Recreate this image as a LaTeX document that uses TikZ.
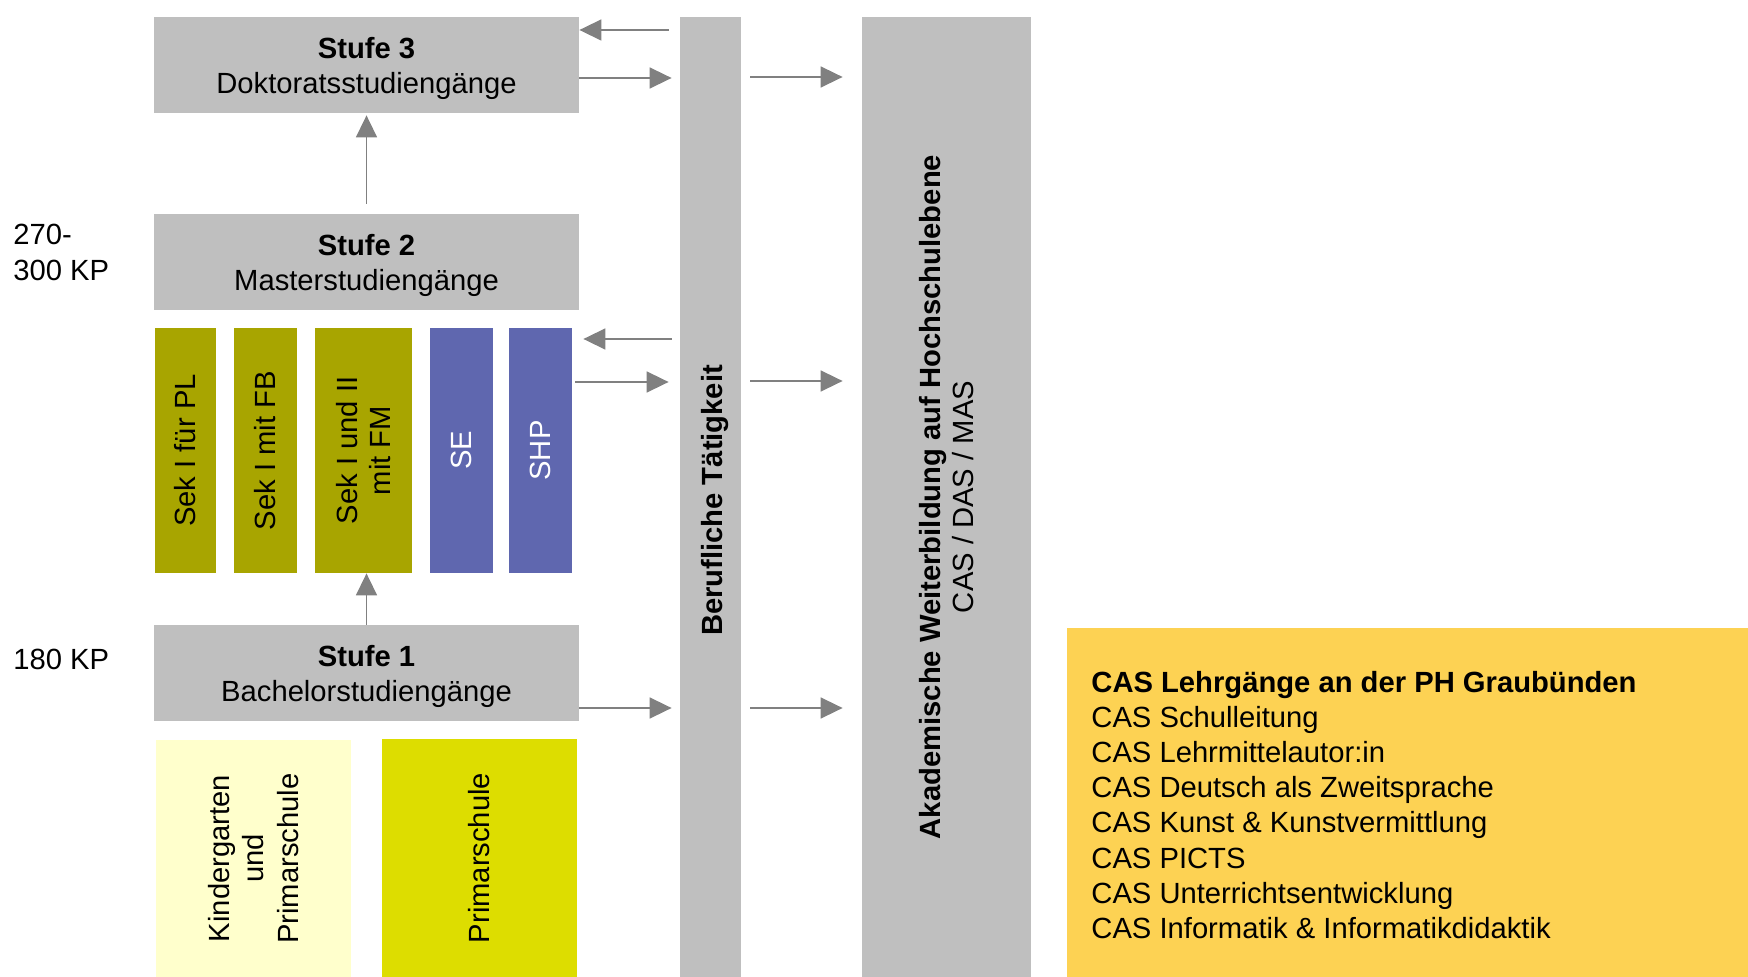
\documentclass[tikz,border=0pt]{standalone}
\usepackage{fontspec}
\setmainfont{Liberation Sans}
\usetikzlibrary{arrows.meta}
\definecolor{boxgray}{HTML}{BFBFBF}
\definecolor{olive}{HTML}{A8A500}
\definecolor{violetblue}{HTML}{5F67AF}
\definecolor{paleyellow}{HTML}{FFFFCC}
\definecolor{lemon}{HTML}{DDDD00}
\definecolor{casyellow}{HTML}{FDD253}
\definecolor{arrowgray}{HTML}{808080}
\tikzset{
  blk/.style 2 args={rectangle, inner sep=0pt, minimum width=#1*0.5pt, minimum height=#2*0.5pt, align=center},
  txt/.style={font=\fontsize{14.6}{16.8}\selectfont},
  stufetxt/.style={align=center, font=\fontsize{14.6}{17.8}\selectfont, yshift=-1.7pt},
  arr/.style={draw=arrowgray, line width=0.8pt, -{Triangle[length=11pt,width=10.5pt]}, arrowgray},
}
\begin{document}
\begin{tikzpicture}[x=0.5pt, y=-0.5pt]
\useasboundingbox (0,0) rectangle (1748,977);

% Stufe boxes
\node[blk={425}{96}, fill=boxgray] (s3) at (366.5,65) {};
\node[stufetxt] (s3t) at (s3.center) {\textbf{Stufe 3}\\Doktoratsstudiengänge};
\node[blk={425}{96}, fill=boxgray] (s2) at (366.5,262) {};
\node[stufetxt] (s2t) at (s2.center) {\textbf{Stufe 2}\\Masterstudiengänge};
\node[blk={425}{96}, fill=boxgray] (s1) at (366.5,673) {};
\node[stufetxt] (s1t) at (s1.center) {\textbf{Stufe 1}\\Bachelorstudiengänge};

% master programmes
\node[blk={61}{245}, fill=olive] (pl) at (185.5,450.5) {};
\node[txt, rotate=90] (plt) at (pl.center) {Sek I für PL};
\node[blk={63}{245}, fill=olive] (fb) at (265.5,450.5) {};
\node[txt, rotate=90] (fbt) at (fb.center) {Sek I mit FB};
\node[blk={97}{245}, fill=olive] (fm) at (363.5,450.5) {};
\node[txt, rotate=90, align=center] (fmt) at (fm.center) {Sek I und II\\mit FM};
\node[blk={63}{245}, fill=violetblue] (se) at (461.5,450.5) {};
\node[txt, rotate=90, text=white] (set) at (se.center) {SE};
\node[blk={63}{245}, fill=violetblue] (shp) at (540.5,450.5) {};
\node[txt, rotate=90, text=white] (shpt) at (shp.center) {SHP};

% bachelor programmes
\node[blk={195}{237}, fill=paleyellow] (kg) at (253.5,858.5) {};
\node[rotate=90, align=center, font=\fontsize{14.6}{17.3}\selectfont] (kgt) at (kg.center) {Kindergarten\\und\\Primarschule};
\node[blk={195}{238}, fill=lemon] (ps) at (479.5,858) {};
\node[txt, rotate=90] (pst) at (ps.center) {Primarschule};

% bars
\node[blk={61}{960}, fill=boxgray] (beruf) at (710.5,497) {};
\node[txt, rotate=90, xshift=-1.7pt, yshift=-2.2pt] (beruft) at (beruf.center) {\textbf{Berufliche Tätigkeit}};
\node[blk={169}{960}, fill=boxgray] (akad) at (946.5,497) {};
\node[rotate=90, align=center, font=\fontsize{14.6}{16.2}\selectfont] (akadt) at (akad.center) {\textbf{Akademische Weiterbildung auf Hochschulebene}\\CAS / DAS / MAS};

% CAS box
\node[blk={681}{349}, fill=casyellow] (cas) at (1407.5,802.5) {};
\node[anchor=west, align=left, inner sep=0pt, font=\fontsize{14.6}{17.55}\selectfont] (caslist) at (1091,805) {\textbf{CAS Lehrgänge an der PH Graubünden}\\CAS Schulleitung\\CAS Lehrmittelautor:in\\CAS Deutsch als Zweitsprache\\CAS Kunst \& Kunstvermittlung\\CAS PICTS\\CAS Unterrichtsentwicklung\\CAS Informatik \& Informatikdidaktik};

% KP labels
\node[anchor=west, align=left, inner sep=0pt, font=\fontsize{14.6}{18}\selectfont] (kp2) at (13,252) {270-\\300 KP};
\node[anchor=west, inner sep=0pt, txt] (kp1) at (13,659) {180 KP};

% arrows
\draw[arr, shorten <=5.5pt] (beruf.west |- 0,30) -- (s3.east |- 0,30);
\draw[arr, shorten >=4pt] (s3.east |- 0,78) -- (beruf.west |- 0,78);
\draw[arr, shorten <=4.5pt, shorten >=9.5pt] (beruf.east |- 0,77) -- (akad.west |- 0,77);
\draw[arr, shorten <=4pt, shorten >=5.5pt] (beruf.west |- 0,339) -- (shp.east |- 0,339);
\draw[arr, shorten <=1.5pt, shorten >=5.5pt] (shp.east |- 0,382) -- (beruf.west |- 0,382);
\draw[arr, shorten <=4.5pt, shorten >=9.5pt] (beruf.east |- 0,381) -- (akad.west |- 0,381);
\draw[arr, shorten >=4pt] (s1.east |- 0,708) -- (beruf.west |- 0,708);
\draw[arr, shorten <=4.5pt, shorten >=9.5pt] (beruf.east |- 0,708) -- (akad.west |- 0,708);
\draw[arr, shorten <=5pt, shorten >=1pt] (s2.north) -- (s3.south);
\draw[arr] (s1.north) -- (s1.north |- fm.south);
\end{tikzpicture}
\end{document}
